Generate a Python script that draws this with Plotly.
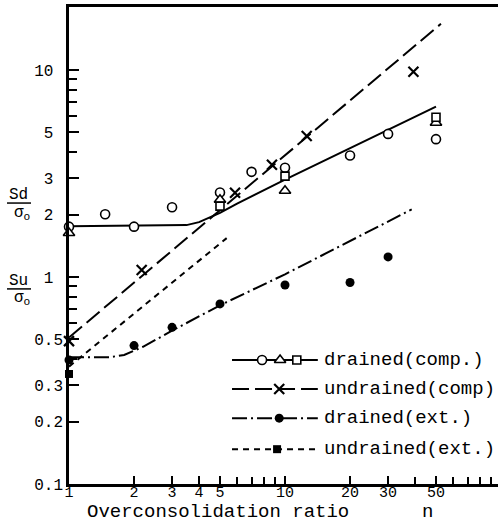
import plotly.graph_objects as go

# ---------------- data ----------------
# drained (comp.) measured points
dc_circ_x = [1, 1.47, 2, 3, 5, 7, 10, 20, 30, 50]
dc_circ_y = [1.75, 2.01, 1.75, 2.17, 2.56, 3.22, 3.37, 3.86, 4.91, 4.63]
dc_tri_x = [1, 5, 10, 50]
dc_tri_y = [1.63, 2.36, 2.61, 5.56]
dc_sq_x = [5, 10, 50]
dc_sq_y = [2.20, 3.07, 5.91]
# undrained (comp) measured points
uc_x = [1, 2.17, 5.87, 8.7, 12.6, 39.3]
uc_y = [0.49, 1.08, 2.55, 3.48, 4.80, 9.81]
# drained (ext.) measured points
de_x = [1, 2, 3, 5, 10, 20, 30]
de_y = [0.397, 0.466, 0.571, 0.741, 0.915, 0.94, 1.25]
# undrained (ext.) measured points
ue_x = [1]
ue_y = [0.34]

# fitted curves
dc_line_x = [1, 3, 3.5, 4, 4.5, 5, 6, 10, 50]
dc_line_y = [1.76, 1.765, 1.78, 1.84, 1.94, 2.04, 2.26, 2.95, 6.65]
uc_line_x = [1, 52.7]
uc_line_y = [0.51, 16.7]
de_line_x = [1, 1.55, 1.8, 2.2, 3, 5, 10, 38.6]
de_line_y = [0.41, 0.41, 0.42, 0.46, 0.55, 0.73, 1.03, 2.12]
ue_line_x = [1, 5.37]
ue_line_y = [0.369, 1.54]

x_tickvals = [1, 2, 3, 4, 5, 10, 20, 30, 50]
x_ticktext = ["1", "2", "3", "4", "5", "10", "20", "30", "50"]
x_minor = [6, 7, 8, 9, 40, 60, 70, 80, 90]
y_tickvals = [0.1, 0.2, 0.3, 0.5, 1, 2, 3, 5, 10]
y_ticktext = ["0.1", "0.2", "0.3", "0.5", "1\u00a0", "2\u00a0", "3\u00a0", "5\u00a0", "10\u00a0"]
y_minor = [0.4, 0.6, 0.7, 0.8, 0.9, 4, 6, 7, 8, 9]

legend_labels = ["drained(comp.)", "undrained(comp)", "drained(ext.)", "undrained(ext.)"]

FONT = "Liberation Mono"
K = "black"
LW = 2
DASH_UC = "17px,6px"
DASH_DE = "15px,4px,2px,4px"
DASH_UE = "6px,5px"

fig = go.Figure()

# curves
fig.add_trace(go.Scatter(x=dc_line_x, y=dc_line_y, mode="lines",
                         line=dict(color=K, width=LW)))
fig.add_trace(go.Scatter(x=uc_line_x, y=uc_line_y, mode="lines",
                         line=dict(color=K, width=LW, dash=DASH_UC)))
fig.add_trace(go.Scatter(x=de_line_x, y=de_line_y, mode="lines",
                         line=dict(color=K, width=LW, dash=DASH_DE)))
fig.add_trace(go.Scatter(x=ue_line_x, y=ue_line_y, mode="lines",
                         line=dict(color=K, width=LW, dash=DASH_UE)))

open_m = dict(color="white", line=dict(color=K, width=1.6))
fig.add_trace(go.Scatter(x=dc_circ_x, y=dc_circ_y, mode="markers", cliponaxis=False,
                         marker=dict(symbol="circle", size=9, **open_m)))
fig.add_trace(go.Scatter(x=dc_tri_x, y=dc_tri_y, mode="markers", cliponaxis=False,
                         marker=dict(symbol="triangle-up", size=10, **open_m)))
fig.add_trace(go.Scatter(x=dc_sq_x, y=dc_sq_y, mode="markers", cliponaxis=False,
                         marker=dict(symbol="square", size=8, **open_m)))
fig.add_trace(go.Scatter(x=uc_x, y=uc_y, mode="markers", cliponaxis=False,
                         marker=dict(symbol="x-thin", size=10, color=K,
                                     line=dict(color=K, width=2.2))))
fig.add_trace(go.Scatter(x=de_x, y=de_y, mode="markers", cliponaxis=False,
                         marker=dict(symbol="circle", size=9, color=K)))
fig.add_trace(go.Scatter(x=ue_x, y=ue_y, mode="markers", cliponaxis=False,
                         marker=dict(symbol="square", size=8, color=K)))

# ---------------- custom legend on an overlay axis ----------------
leg_rows = [0.260, 0.199, 0.138, 0.073]
leg_x0, leg_x1 = 0.380, 0.580
leg_dash = ["solid", DASH_UC, DASH_DE, DASH_UE]
for r, d in zip(leg_rows, leg_dash):
    fig.add_trace(go.Scatter(x=[leg_x0, leg_x1], y=[r, r], mode="lines",
                             line=dict(color=K, width=LW, dash=d),
                             xaxis="x2", yaxis="y2"))
fig.add_trace(go.Scatter(x=[0.450], y=[leg_rows[0]], mode="markers", xaxis="x2", yaxis="y2",
                         marker=dict(symbol="circle", size=9, **open_m)))
fig.add_trace(go.Scatter(x=[0.492], y=[leg_rows[0]], mode="markers", xaxis="x2", yaxis="y2",
                         marker=dict(symbol="triangle-up", size=10, **open_m)))
fig.add_trace(go.Scatter(x=[0.531], y=[leg_rows[0]], mode="markers", xaxis="x2", yaxis="y2",
                         marker=dict(symbol="square", size=8, **open_m)))
fig.add_trace(go.Scatter(x=[0.490], y=[leg_rows[1]], mode="markers", xaxis="x2", yaxis="y2",
                         marker=dict(symbol="x-thin", size=10, color=K, line=dict(color=K, width=2.2))))
fig.add_trace(go.Scatter(x=[0.490], y=[leg_rows[2]], mode="markers", xaxis="x2", yaxis="y2",
                         marker=dict(symbol="circle", size=9, color=K)))
fig.add_trace(go.Scatter(x=[0.485], y=[leg_rows[3]], mode="markers", xaxis="x2", yaxis="y2",
                         marker=dict(symbol="square", size=8, color=K)))

annotations = []
for r, lab in zip(leg_rows, legend_labels):
    annotations.append(dict(x=0.590, y=r, xref="paper", yref="paper", text=lab,
                            showarrow=False, xanchor="left", yanchor="middle",
                            font=dict(family=FONT, size=19, color=K)))

# axis titles
annotations += [
    dict(x=0.0373, y=-0.0865, xref="paper", yref="paper", text="Overconsolidation ratio",
         showarrow=False, xanchor="left", yanchor="bottom",
         font=dict(family=FONT, size=19, color=K)),
    dict(x=0.8345, y=-0.0865, xref="paper", yref="paper", text="n",
         showarrow=False, xanchor="center", yanchor="bottom",
         font=dict(family=FONT, size=19, color=K)),
    dict(x=-0.1166, y=0.606, xref="paper", yref="paper", text="Sd",
         showarrow=False, xanchor="center", yanchor="middle",
         font=dict(family=FONT, size=16, color=K)),
    dict(x=-0.1096, y=0.568, xref="paper", yref="paper", text="σ<sub>o</sub>",
         showarrow=False, xanchor="center", yanchor="middle",
         font=dict(family=FONT, size=16, color=K)),
    dict(x=-0.1166, y=0.425, xref="paper", yref="paper", text="Su",
         showarrow=False, xanchor="center", yanchor="middle",
         font=dict(family=FONT, size=16, color=K)),
    dict(x=-0.1096, y=0.388, xref="paper", yref="paper", text="σ<sub>o</sub>",
         showarrow=False, xanchor="center", yanchor="middle",
         font=dict(family=FONT, size=16, color=K)),
]

shapes = [
    dict(type="line", xref="paper", yref="paper", x0=-0.1445, x1=-0.0886,
         y0=0.589, y1=0.589, line=dict(color=K, width=1.5)),
    dict(type="line", xref="paper", yref="paper", x0=-0.1445, x1=-0.0886,
         y0=0.409, y1=0.409, line=dict(color=K, width=1.5)),
]

fig.update_layout(
    width=498, height=525,
    margin=dict(l=69, r=0, t=7, b=41),
    paper_bgcolor="white", plot_bgcolor="white",
    showlegend=False,
    font=dict(family=FONT, color=K),
    annotations=annotations,
    shapes=shapes,
    xaxis=dict(type="log", range=[0, 1.986], showgrid=False, zeroline=False,
               showline=True, linecolor=K, linewidth=2.5, mirror=True,
               ticks="inside", ticklen=8, tickwidth=1.5, tickcolor=K,
               tickvals=x_tickvals, ticktext=x_ticktext, ticklabelstandoff=-8,
               tickfont=dict(family=FONT, size=15, color=K),
               minor=dict(tickvals=x_minor, ticks="inside", ticklen=7,
                          tickwidth=1.5, tickcolor=K, showgrid=False)),
    yaxis=dict(type="log", range=[-1, 1.304], showgrid=False, zeroline=False,
               showline=True, linecolor=K, linewidth=2.5,
               ticks="inside", ticklen=10, tickwidth=1.5, tickcolor=K,
               tickvals=y_tickvals, ticktext=y_ticktext,
               tickfont=dict(family=FONT, size=16, color=K),
               minor=dict(tickvals=y_minor, ticks="inside", ticklen=8,
                          tickwidth=1.5, tickcolor=K, showgrid=False)),
    xaxis2=dict(overlaying="x", range=[0, 1], visible=False),
    yaxis2=dict(overlaying="y", range=[0, 1], visible=False),
)

fig.write_html("out.html")
